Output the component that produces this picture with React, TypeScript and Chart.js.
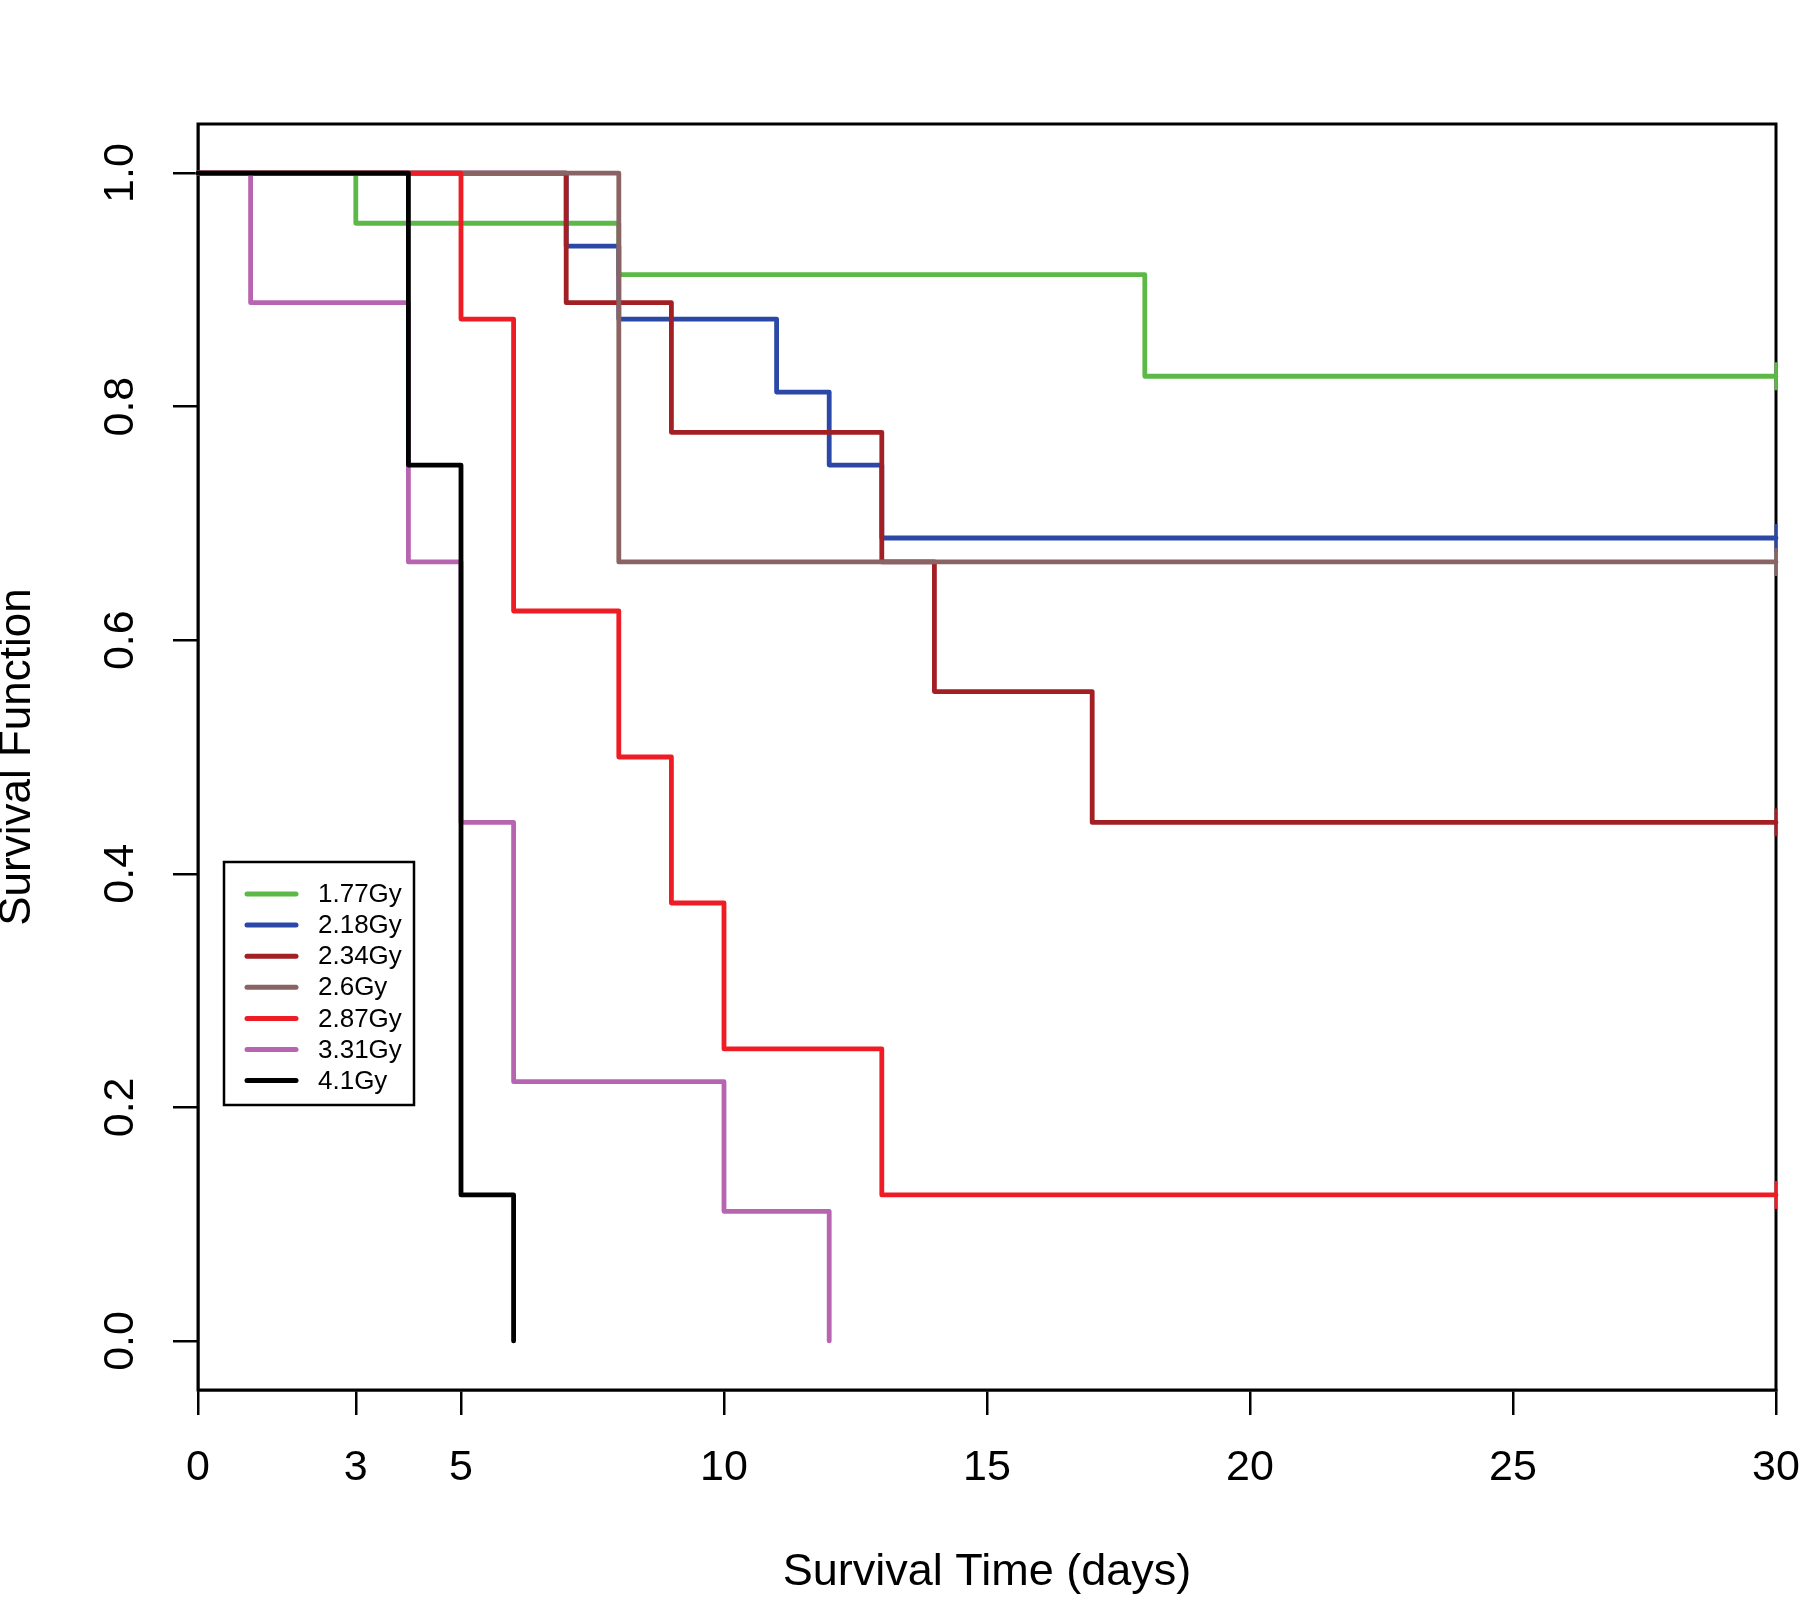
import React, { useEffect, useRef } from 'react';
import { Chart, registerables } from 'chart.js';

Chart.register(...registerables);

// ---- Data (Kaplan–Meier survival curves) ----
const DOSE_LABELS = ['1.77Gy', '2.18Gy', '2.34Gy', '2.6Gy', '2.87Gy', '3.31Gy', '4.1Gy'];
const DOSE_COLORS = ['#5DB947', '#2B48A6', '#A21F24', '#8A6464', '#EE1C24', '#B865B1', '#000000'];

const TIME_177 = [0, 3, 8, 18, 30];
const SURV_177 = [1, 0.957, 0.913, 0.826, 0.826];

const TIME_218 = [0, 7, 8, 11, 12, 13, 30];
const SURV_218 = [1, 0.9375, 0.875, 0.8125, 0.75, 0.6875, 0.6875];

const TIME_234 = [0, 7, 9, 13, 14, 17, 30];
const SURV_234 = [1, 0.889, 0.778, 0.667, 0.556, 0.444, 0.444];

const TIME_260 = [0, 8, 30];
const SURV_260 = [1, 0.667, 0.667];

const TIME_287 = [0, 5, 6, 8, 9, 10, 13, 30];
const SURV_287 = [1, 0.875, 0.625, 0.5, 0.375, 0.25, 0.125, 0.125];

const TIME_331 = [0, 1, 4, 5, 6, 10, 12];
const SURV_331 = [1, 0.889, 0.667, 0.444, 0.222, 0.111, 0];

const TIME_410 = [0, 4, 5, 6];
const SURV_410 = [1, 0.75, 0.125, 0];

const CENSORED_AT_END = [true, true, true, true, true, false, false];

const X_TICKS = [0, 3, 5, 10, 15, 20, 25, 30];
const Y_TICKS = [0, 0.2, 0.4, 0.6, 0.8, 1.0];

const X_TITLE = 'Survival Time (days)';
const Y_TITLE = 'Survival Function';

const FONT = "'Liberation Sans', Arial, Helvetica, sans-serif";

const SERIES_TIMES = [TIME_177, TIME_218, TIME_234, TIME_260, TIME_287, TIME_331, TIME_410];
const SERIES_SURV = [SURV_177, SURV_218, SURV_234, SURV_260, SURV_287, SURV_331, SURV_410];

const boxPlugin = {
  id: 'plotBox',
  beforeDatasetsDraw(chart: any) {
    const { ctx, chartArea } = chart;
    ctx.save();
    ctx.strokeStyle = '#000';
    ctx.lineWidth = 3;
    ctx.strokeRect(chartArea.left, chartArea.top, chartArea.right - chartArea.left, chartArea.bottom - chartArea.top);
    ctx.restore();
  },
};

const legendPlugin = {
  id: 'insideLegend',
  afterDatasetsDraw(chart: any) {
    const { ctx, chartArea } = chart;
    const bx = chartArea.left + 26;
    const by = chartArea.top + 738;
    const bw = 190;
    const bh = 243;
    ctx.save();
    ctx.fillStyle = '#fff';
    ctx.fillRect(bx, by, bw, bh);
    ctx.strokeStyle = '#000';
    ctx.lineWidth = 2.5;
    ctx.strokeRect(bx, by, bw, bh);
    ctx.font = `26px ${FONT}`;
    ctx.textBaseline = 'middle';
    ctx.textAlign = 'left';
    DOSE_LABELS.forEach((lab, i) => {
      const y = by + 32 + i * 31.1;
      ctx.strokeStyle = DOSE_COLORS[i];
      ctx.lineWidth = 5;
      ctx.lineCap = 'round';
      ctx.beginPath();
      ctx.moveTo(bx + 23, y);
      ctx.lineTo(bx + 72, y);
      ctx.stroke();
      ctx.fillStyle = '#000';
      ctx.fillText(lab, bx + 94, y + 1);
    });
    ctx.restore();
  },
};

export default function App() {
  const canvasRef = useRef<HTMLCanvasElement | null>(null);

  useEffect(() => {
    document.body.style.margin = '0';
    const canvas = canvasRef.current;
    if (!canvas) return;

    const datasets = DOSE_LABELS.map((lab, i) => {
      const times = SERIES_TIMES[i];
      const surv = SERIES_SURV[i];
      const n = times.length;
      return {
        label: lab,
        data: times.map((t, k) => ({ x: t, y: surv[k] })),
        stepped: true,
        borderColor: DOSE_COLORS[i],
        backgroundColor: DOSE_COLORS[i],
        borderWidth: 4.8,
        borderCapStyle: 'round',
        borderJoinStyle: 'round',
        fill: false,
        pointStyle: 'line',
        pointRotation: 90,
        pointRadius: times.map((_, k) => (k === n - 1 && CENSORED_AT_END[i] ? 14 : 0)),
        pointHoverRadius: 0,
        pointBorderColor: DOSE_COLORS[i],
        pointBorderWidth: 3,
        clip: false,
        order: 20 - i,
      };
    });

    const chart = new Chart(canvas, {
      type: 'line',
      data: { datasets: datasets as any },
      options: {
        responsive: false,
        animation: false,
        devicePixelRatio: 1,
        layout: { padding: { left: 0, top: 124, right: 24, bottom: 0 } },
        plugins: {
          legend: { display: false },
          tooltip: { enabled: false },
        },
        scales: {
          x: {
            type: 'linear',
            min: 0,
            max: 30,
            afterBuildTicks: (s: any) => {
              s.ticks = X_TICKS.map((v) => ({ value: v }));
            },
            afterFit: (s: any) => {
              s.height = 207;
              s.paddingLeft = 0;
              s.paddingRight = 0;
            },
            grid: { drawOnChartArea: false, drawTicks: true, tickLength: 25, color: '#000', lineWidth: 2.5 },
            border: { display: true, color: '#000', width: 2.5 },
            ticks: {
              color: '#000',
              font: { family: FONT, size: 43 },
              padding: 27,
              autoSkip: false,
              maxRotation: 0,
              minRotation: 0,
              callback: (v: any) => String(v),
            },
            title: {
              display: true,
              text: X_TITLE,
              color: '#000',
              font: { family: FONT, size: 45, lineHeight: 1.07 },
              padding: { top: 0, bottom: 0 },
            },
          },
          y: {
            type: 'linear',
            min: -0.042,
            max: 1.042,
            afterBuildTicks: (s: any) => {
              s.ticks = Y_TICKS.map((v) => ({ value: v }));
            },
            afterFit: (s: any) => {
              s.width = 198;
              s.paddingTop = 0;
              s.paddingBottom = 0;
            },
            grid: { drawOnChartArea: false, drawTicks: true, tickLength: 25, color: '#000', lineWidth: 2.5 },
            border: { display: true, color: '#000', width: 2.5 },
            ticks: {
              color: '#000',
              font: { family: FONT, size: 43 },
              padding: 22,
              minRotation: 90,
              maxRotation: 90,
              crossAlign: 'center',
              autoSkip: false,
              callback: (v: any) => Number(v).toFixed(1),
            },
            title: {
              display: true,
              text: Y_TITLE,
              color: '#000',
              font: { family: FONT, size: 44, lineHeight: 0.8 },
              padding: { top: 0, bottom: 0 },
            },
          },
        },
      } as any,
      plugins: [boxPlugin, legendPlugin],
    });

    return () => {
      chart.destroy();
    };
  }, []);

  return (
    <div style={{ width: 1800, height: 1597, background: '#fff' }}>
      <canvas ref={canvasRef} width={1800} height={1597} style={{ display: 'block' }} />
    </div>
  );
}
